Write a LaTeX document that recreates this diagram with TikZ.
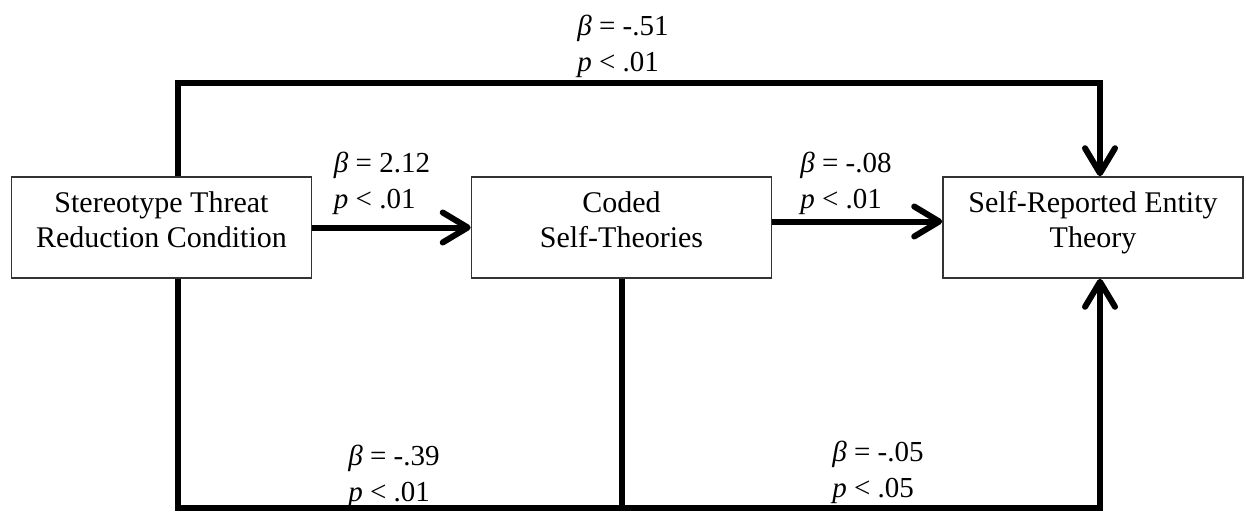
\documentclass[tikz,border=0pt]{standalone}
\usepackage{fontspec}
\setmainfont{Liberation Serif}
\usetikzlibrary{arrows.meta}
\newcommand\toph{\rule{0pt}{34pt}}
\newcommand\both{\rule[-30pt]{0pt}{30pt}}
\begin{document}
\begin{tikzpicture}[x=1pt,y=-1pt,
  box/.style={draw=black!80,line width=1.6pt,minimum width=300pt,minimum height=101pt,align=center,inner sep=0pt,font=\fontsize{30}{35}\selectfont},
  conn/.style={line width=6pt},
  arr/.style={conn,-{Straight Barb[length=25pt,width=30pt,round]}},
  lab/.style={align=left,inner sep=0pt,font=\fontsize{29}{36}\selectfont}]
\useasboundingbox[fill=white] (0,0) rectangle (1246,512);
\node[box] (A) at (161.5,227.5) {\toph Stereotype Threat\\Reduction Condition\both};
\node[box] (B) at (621.5,227.5) {\toph Coded\\Self-Theories\both};
\node[box] (C) at (1093,227.5) {\toph Self-Reported Entity\\Theory\both};
\coordinate (tl) at (178,83);
\coordinate (tr) at (1100,83);
\coordinate (bl) at (178,508);
\coordinate (br) at (1100,508);
\draw[arr] (A.north -| tl) -- (tl) -- (tr) -- (C.north -| tr);
\draw[arr] (A.south -| bl) -- (bl) -- (br) -- (C.south -| br);
\draw[conn] (B.south) -- (B.south |- bl);
\draw[arr] (A.east) -- (B.west);
\draw[arr] ([yshift=6pt]B.east) -- ([yshift=6pt]C.west);
\node[lab] (l1) at (623,46) {\textit{β} = -.51\\\textit{p} < .01};
\node[lab] (l2) at (382,183) {\textit{β} = 2.12\\\textit{p} < .01};
\node[lab] (l3) at (846,183) {\textit{β} = -.08\\\textit{p} < .01};
\node[lab] (l4) at (394,476) {\textit{β} = -.39\\\textit{p} < .01};
\node[lab] (l5) at (878,472) {\textit{β} = -.05\\\textit{p} < .05};
\end{tikzpicture}
\end{document}
